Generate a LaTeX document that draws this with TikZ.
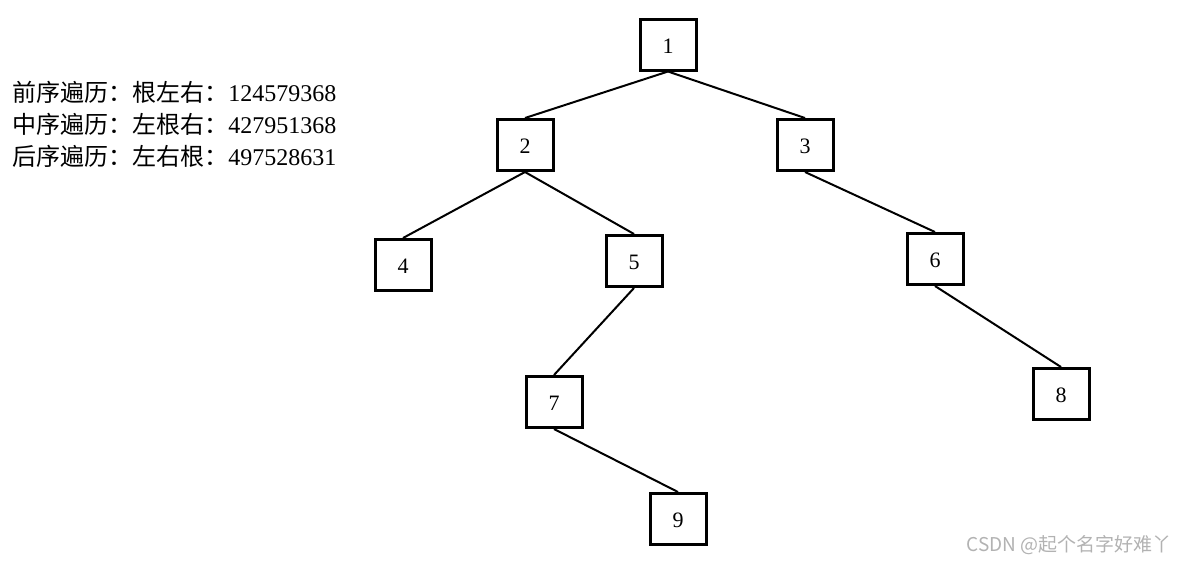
\documentclass[tikz,border=0pt]{standalone}
\usepackage{fontspec}
\setmainfont{Liberation Serif}
\newfontfamily\cjk{Noto Sans CJK SC}
\begin{document}
\begin{tikzpicture}[x=0.5pt,y=-0.5pt,
    treenode/.style={draw,line width=1.5pt,minimum width=28pt,minimum height=25.5pt,
      inner sep=0pt,text height=0.85em,text depth=0pt,font=\fontsize{11}{13}\selectfont},
    edge/.style={line width=1pt},
    order/.style={anchor=west,inner sep=0pt,font=\fontsize{12}{14}\selectfont}]
  \useasboundingbox (0,0) rectangle (1184,564);
  % traversal texts
  \node[order] (pre)  at (12,92)  {{\cjk 前序遍历：根左右：}124579368};
  \node[order] (in)   at (12,124) {{\cjk 中序遍历：左根右：}427951368};
  \node[order] (post) at (12,156) {{\cjk 后序遍历：左右根：}497528631};
  % tree
  \node[treenode] (n1) at (668,44.5) {1};
  \node[treenode] (n2) at (525,145) {2};
  \node[treenode] (n3) at (805,145) {3};
  \node[treenode] (n4) at (403,265) {4};
  \node[treenode] (n5) at (634,261) {5};
  \node[treenode] (n6) at (935,259) {6};
  \node[treenode] (n7) at (554,402) {7};
  \node[treenode] (n8) at (1061,394) {8};
  \node[treenode] (n9) at (678,519) {9};
  \foreach \p/\c in {n1/n2,n1/n3,n2/n4,n2/n5,n3/n6,n5/n7,n6/n8,n7/n9}
    \draw[edge] (\p.south) -- (\c.north);
  % watermark
  \node[anchor=east,inner sep=0pt,text=black!30,font=\cjk\fontsize{9.5}{11}\selectfont]
    (mark) at (1172,545) {CSDN @起个名字好难丫};
\end{tikzpicture}
\end{document}
